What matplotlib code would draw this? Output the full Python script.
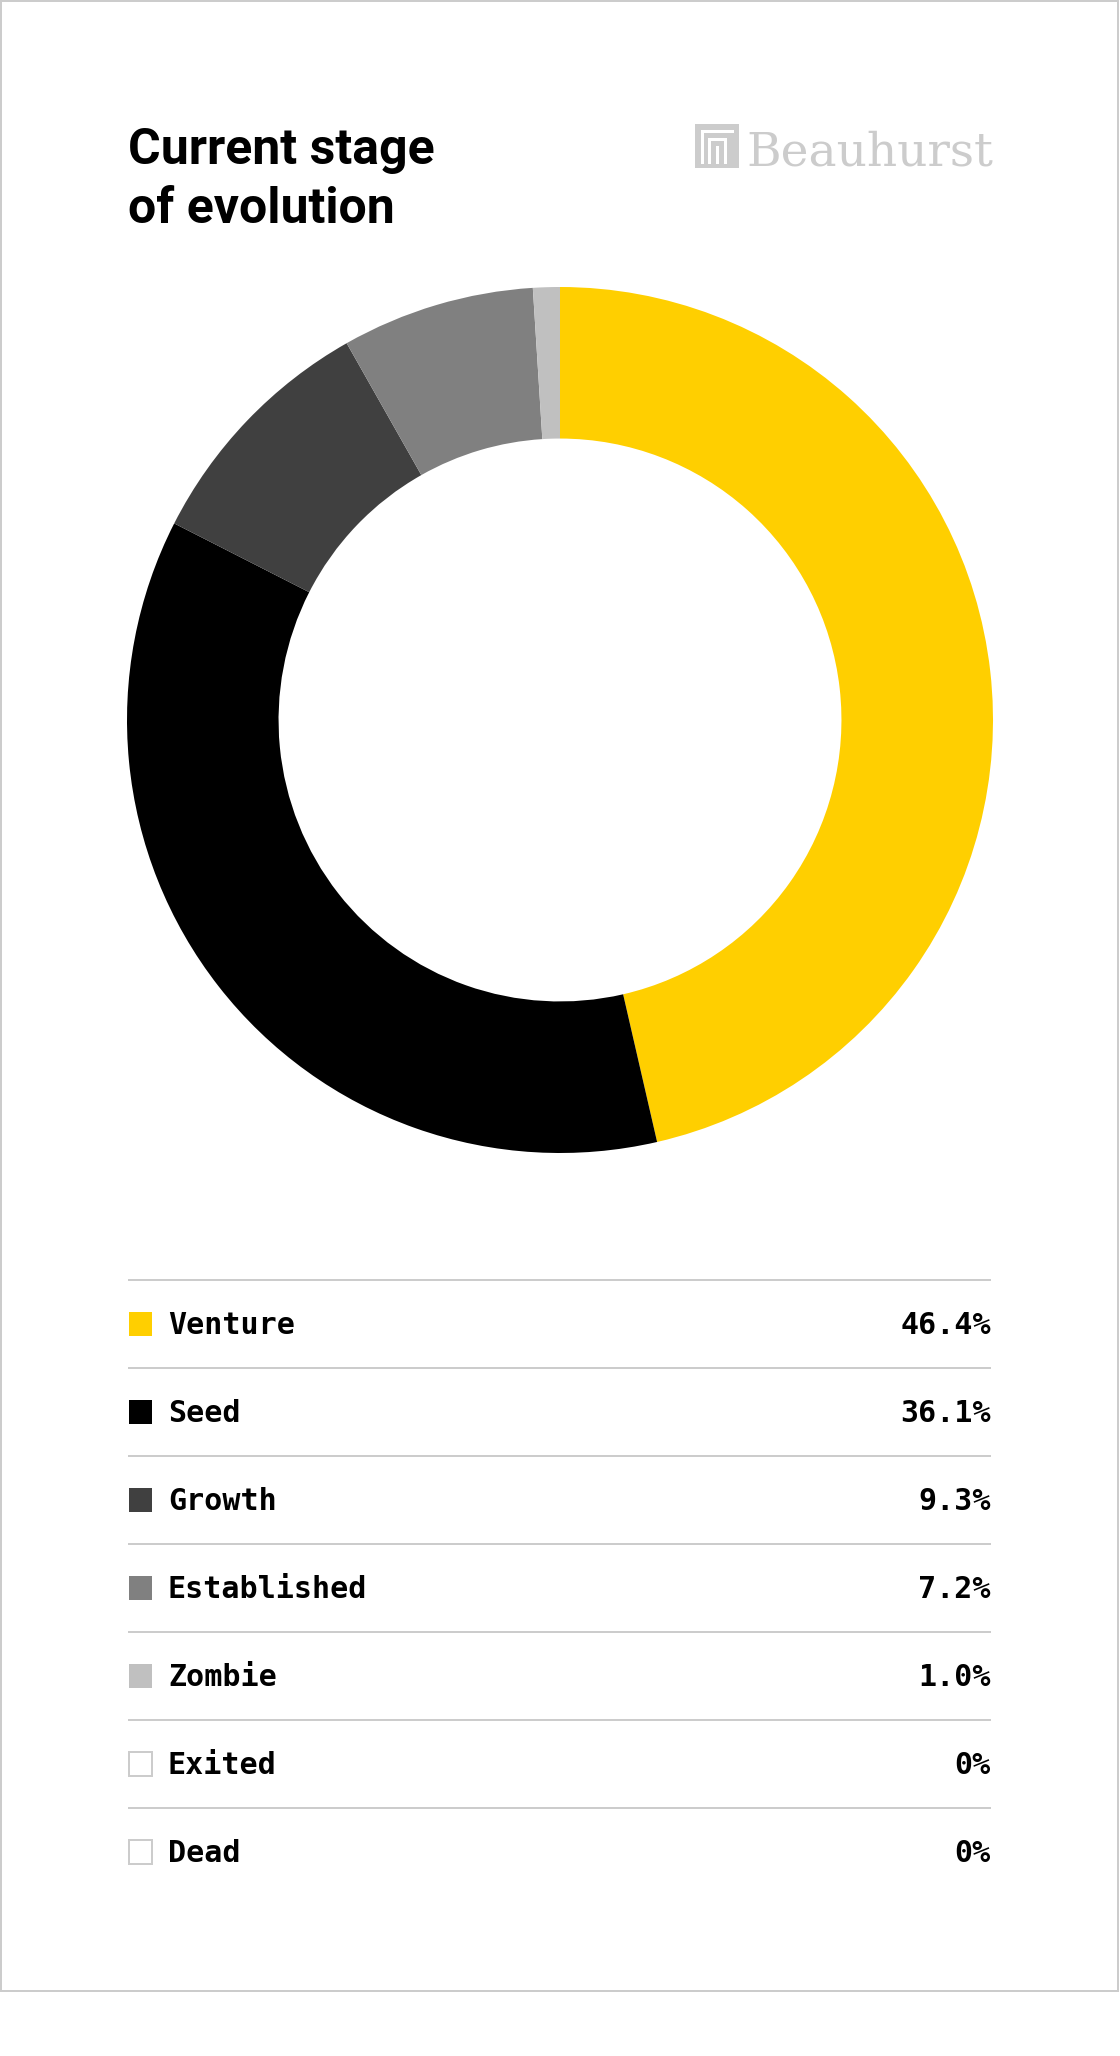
import matplotlib
matplotlib.use("Agg")
import matplotlib.pyplot as plt
from matplotlib.patches import Rectangle

# data
stages = ["Venture", "Seed", "Growth", "Established", "Zombie", "Exited", "Dead"]
shares = [46.4, 36.1, 9.3, 7.2, 1.0, 0.0, 0.0]
share_labels = ["46.4%", "36.1%", "9.3%", "7.2%", "1.0%", "0%", "0%"]
colors = ["#ffcf00", "#000000", "#404040", "#808080", "#c0c0c0", "#ffffff", "#ffffff"]

W, H = 1120, 2056
PT = 0.72  # px -> pt at dpi 100
GRID = "#cccccc"

fig = plt.figure(figsize=(W / 100, H / 100), dpi=100)
fig.patch.set_facecolor("white")

ax = fig.add_axes([0, 0, 1, 1])
ax.set_xlim(0, W)
ax.set_ylim(H, 0)
ax.axis("off")

# outer frame
ax.add_patch(Rectangle((1, 1), W - 3, 1990, facecolor="none", edgecolor=GRID, linewidth=2 * PT))

# title
for text, base in [("Current stage", 164), ("of evolution", 223)]:
    ax.text(128, base, text, fontsize=50 * PT, fontweight="bold", family="Roboto",
            ha="left", va="baseline", color="black")

# logo
ax.add_patch(Rectangle((695, 124), 44, 44, facecolor=GRID, edgecolor="none"))
ax.plot([702, 702, 732], [162, 131, 131], color="white", linewidth=3 * PT, solid_joinstyle="miter")
ax.plot([709, 709, 725, 725], [162, 139, 139, 162], color="white", linewidth=3 * PT, solid_joinstyle="miter")
ax.plot([717, 717], [147, 162], color="white", linewidth=3 * PT)
ax.text(993, 165, "Beauhurst", fontsize=47 * PT, family="DejaVu Serif",
        ha="right", va="baseline", color=GRID)

# donut
cx, cy, R = 560, 720, 433
pax = fig.add_axes([(cx - R) / W, (H - cy - R) / H, 2 * R / W, 2 * R / H])
vals = [v for v in shares if v > 0]
cols = [c for v, c in zip(shares, colors) if v > 0]
pax.pie(vals, colors=cols, startangle=90, counterclock=False, radius=1,
        wedgeprops={"width": 0.35, "linewidth": 0})
pax.set_xlim(-1, 1)
pax.set_ylim(-1, 1)
pax.set_aspect("equal")
pax.axis("off")

# legend table
top, step = 1280, 88
left, right = 128, 991
for i, (name, lab, col) in enumerate(zip(stages, share_labels, colors)):
    y = top + i * step
    ax.plot([left, right], [y, y], color=GRID, linewidth=2 * PT, solid_capstyle="butt")
    yc = y + step / 2
    ec = GRID if col == "#ffffff" else "none"
    ax.add_patch(Rectangle((left + 1, yc - 12), 23, 24, facecolor=col, edgecolor=ec, linewidth=2 * PT))
    ax.text(168, yc + 1, name, fontsize=30 * PT, family="DejaVu Sans Mono", fontweight="bold",
            ha="left", va="center", color="black")
    ax.text(right, yc + 1, lab, fontsize=30 * PT, family="DejaVu Sans Mono", fontweight="bold",
            ha="right", va="center", color="black")

fig.savefig("out.png", dpi=100, facecolor="white")
